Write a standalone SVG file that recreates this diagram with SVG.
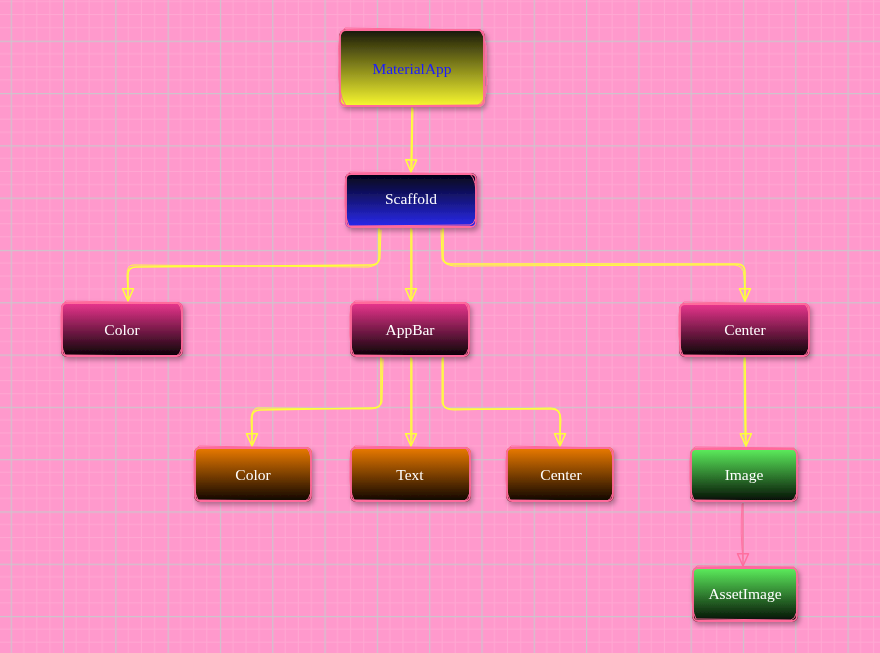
<svg xmlns="http://www.w3.org/2000/svg" width="880" height="653" viewBox="0 0 880 653">
<defs>
<pattern id="grid" patternUnits="userSpaceOnUse" x="10.7" y="40.7" width="52.3" height="52.3">
<path d="M13.07,0V52.3M26.15,0V52.3M39.22,0V52.3M0,13.07H52.3M0,26.15H52.3M0,39.22H52.3" stroke="#ffa8d2" stroke-width="1" fill="none"/>
<path d="M0.5,0V52.3M0,0.5H52.3" stroke="#cfc3cc" stroke-width="1.4" fill="none"/>
</pattern>
<linearGradient id="gYellow" x1="0" y1="0" x2="0" y2="1"><stop offset="0" stop-color="#141408"/><stop offset="1" stop-color="#fbfb30"/></linearGradient>
<linearGradient id="gBlue" x1="0" y1="0" x2="0" y2="1"><stop offset="0" stop-color="#02020e"/><stop offset="1" stop-color="#2b2bf2"/></linearGradient>
<linearGradient id="gPink" x1="0" y1="0" x2="0" y2="1"><stop offset="0" stop-color="#ee3690"/><stop offset="1" stop-color="#050003"/></linearGradient>
<linearGradient id="gOrange" x1="0" y1="0" x2="0" y2="1"><stop offset="0" stop-color="#ee7c00"/><stop offset="1" stop-color="#0a0300"/></linearGradient>
<linearGradient id="gGreen" x1="0" y1="0" x2="0" y2="1"><stop offset="0" stop-color="#5ef25e"/><stop offset="1" stop-color="#020a02"/></linearGradient>
<filter id="shadow" x="-20%" y="-20%" width="150%" height="160%"><feDropShadow dx="2" dy="3" stdDeviation="2.5" flood-color="#000" flood-opacity="0.3"/></filter>
<marker id="arrowY" viewBox="0 0 14 14" refX="13" refY="7" markerWidth="14" markerHeight="14" markerUnits="userSpaceOnUse" orient="auto">
<path d="M0.8,1.5 L13,7 L0.8,12.5 Z" fill="none" stroke="#ffff3a" stroke-width="1.5" stroke-linejoin="round"/>
</marker>
<marker id="arrowP" viewBox="0 0 14 14" refX="13" refY="7" markerWidth="14" markerHeight="14" markerUnits="userSpaceOnUse" orient="auto">
<path d="M0.8,1.5 L13,7 L0.8,12.5 Z" fill="none" stroke="#ff6f9f" stroke-width="1.5" stroke-linejoin="round"/>
</marker>
</defs>
<style>
.out{fill:none;stroke:#ff6a9c;stroke-width:1.8}
.out2{fill:none;stroke:#ff6a9c;stroke-width:1}
.lbl{font-family:"Liberation Serif","Times New Roman",serif;font-size:15.5px;text-anchor:middle;dominant-baseline:central;fill:#ffffff}
.edge{fill:none;stroke:#ffff3a;stroke-width:1.6;stroke-linecap:round;stroke-linejoin:round}
.edge2{fill:none;stroke:#ffff3a;stroke-width:1;stroke-linecap:round;stroke-linejoin:round}
.edgeP{fill:none;stroke:#ff6f9f;stroke-width:1.5}
.edgeP2{fill:none;stroke:#ff6f9f;stroke-width:0.9}
</style>
<rect width="880" height="653" fill="#ff99cc"/>
<rect width="880" height="653" fill="url(#grid)"/>

<g id="connectors">
<path class="edge" d="M412,108 L411,172" marker-end="url(#arrowY)"/>
<path class="edge2" d="M413,109 L412,166"/>
<path class="edge" d="M379,229 L379,258 Q379,265 371,265 L136,267 Q128,267 128,275 L128,301" marker-end="url(#arrowY)"/>
<path class="edge2" d="M381,230 L380,259 Q378,266 368,267 L133,265 Q127,265 127,276 L128,294"/>
<path class="edge" d="M411,229 L411,301" marker-end="url(#arrowY)"/>
<path class="edge2" d="M412,230 L412,294"/>
<path class="edge" d="M443,229 L443,257 Q443,264 451,264 L737,264 Q745,264 745,272 L745,301" marker-end="url(#arrowY)"/>
<path class="edge2" d="M441,230 L442,259 Q444,265 454,266 L735,265 Q744,266 744,276 L745,294"/>
<path class="edge" d="M381,358 L381,401 Q381,408 373,408 L260,410 Q252,410 252,418 L252,446" marker-end="url(#arrowY)"/>
<path class="edge2" d="M383,359 L382,402 Q380,409 370,409 L257,408 Q251,410 251,420 L252,439"/>
<path class="edge" d="M411,358 L411,446" marker-end="url(#arrowY)"/>
<path class="edge2" d="M412,359 L412,439"/>
<path class="edge" d="M443,358 L443,402 Q443,409 451,409 L552,409 Q560,409 560,417 L560,446" marker-end="url(#arrowY)"/>
<path class="edge2" d="M442,359 L442,403 Q444,410 454,410 L551,408 Q561,408 561,420 L560,439"/>
<path class="edge" d="M745,358 L746,446" marker-end="url(#arrowY)"/>
<path class="edge2" d="M744,359 L745,439"/>
<path class="edgeP" d="M743,503 L743,566" marker-end="url(#arrowP)"/>
<path class="edgeP2" d="M742,504 Q740,535 743,559"/>
</g>

<g id="MaterialApp" filter="url(#shadow)">
<rect x="339" y="29" width="146" height="78" rx="8" fill="url(#gYellow)"/>
<rect class="out" x="340" y="30" width="144" height="76" rx="6"/>
<path class="out2" d="M345,28 L480,30 Q488,40 486,70 Q489,100 478,105 L346,106 Q337,95 339,60 Q337,32 345,28 Z"/>
<text class="lbl" x="412" y="68" style="fill:#1a1aff">MaterialApp</text>
</g>

<g id="Scaffold" filter="url(#shadow)">
<rect x="345" y="173" width="132" height="55" rx="6" fill="url(#gBlue)"/>
<rect class="out" x="346" y="174" width="130" height="53" rx="5"/>
<path class="out2" d="M350,172 L470,174 Q477,180 476,200 Q478,224 470,225 L349,226 Q344,215 345,195 Q344,174 350,172 Z"/>
<text class="lbl" x="411" y="198">Scaffold</text>
</g>

<g id="Color1" filter="url(#shadow)">
<rect x="61" y="302" width="122" height="55" rx="6" fill="url(#gPink)"/>
<rect class="out" x="62" y="303" width="120" height="53" rx="5"/>
<path class="out2" d="M66,301 L178,303 Q184,310 182,330 Q184,354 176,356 L65,355 Q60,345 61,325 Q60,303 66,301 Z"/>
<text class="lbl" x="122" y="329">Color</text>
</g>

<g id="AppBar" filter="url(#shadow)">
<rect x="350" y="302" width="120" height="55" rx="6" fill="url(#gPink)"/>
<rect class="out" x="351" y="303" width="118" height="53" rx="5"/>
<path class="out2" d="M355,301 L465,303 Q471,310 469,330 Q471,354 463,356 L354,355 Q349,345 350,325 Q349,303 355,301 Z"/>
<text class="lbl" x="410" y="329">AppBar</text>
</g>

<g id="Center1" filter="url(#shadow)">
<rect x="679" y="303" width="131" height="54" rx="6" fill="url(#gPink)"/>
<rect class="out" x="680" y="304" width="129" height="52" rx="5"/>
<path class="out2" d="M684,302 L805,304 Q811,311 809,330 Q811,354 803,356 L683,355 Q678,345 679,325 Q678,304 684,302 Z"/>
<text class="lbl" x="745" y="329">Center</text>
</g>

<g id="Color2" filter="url(#shadow)">
<rect x="194" y="447" width="118" height="55" rx="6" fill="url(#gOrange)"/>
<rect class="out" x="195" y="448" width="116" height="53" rx="5"/>
<path class="out2" d="M199,446 L307,448 Q313,455 311,475 Q313,499 305,501 L198,500 Q193,490 194,470 Q193,448 199,446 Z"/>
<text class="lbl" x="253" y="474">Color</text>
</g>

<g id="Text" filter="url(#shadow)">
<rect x="350" y="447" width="121" height="55" rx="6" fill="url(#gOrange)"/>
<rect class="out" x="351" y="448" width="119" height="53" rx="5"/>
<path class="out2" d="M355,446 L466,448 Q472,455 470,475 Q472,499 464,501 L354,500 Q349,490 350,470 Q349,448 355,446 Z"/>
<text class="lbl" x="410" y="474">Text</text>
</g>

<g id="Center2" filter="url(#shadow)">
<rect x="506" y="447" width="108" height="55" rx="6" fill="url(#gOrange)"/>
<rect class="out" x="507" y="448" width="106" height="53" rx="5"/>
<path class="out2" d="M511,446 L609,448 Q615,455 613,475 Q615,499 607,501 L510,500 Q505,490 506,470 Q505,448 511,446 Z"/>
<text class="lbl" x="561" y="474">Center</text>
</g>

<g id="Image" filter="url(#shadow)">
<rect x="690" y="448" width="108" height="54" rx="6" fill="url(#gGreen)"/>
<rect class="out" x="691" y="449" width="106" height="52" rx="5"/>
<path class="out2" d="M695,447 L794,448 Q799,455 797,475 Q799,499 791,501 L694,500 Q689,490 690,470 Q689,449 695,447 Z"/>
<text class="lbl" x="744" y="474">Image</text>
</g>

<g id="AssetImage" filter="url(#shadow)">
<rect x="692" y="567" width="106" height="55" rx="6" fill="url(#gGreen)"/>
<rect class="out" x="693" y="568" width="104" height="53" rx="5"/>
<path class="out2" d="M697,566 L794,567 Q799,574 797,594 Q799,618 791,620 L696,619 Q691,609 692,589 Q691,568 697,566 Z"/>
<text class="lbl" x="745" y="593">AssetImage</text>
</g>
</svg>
